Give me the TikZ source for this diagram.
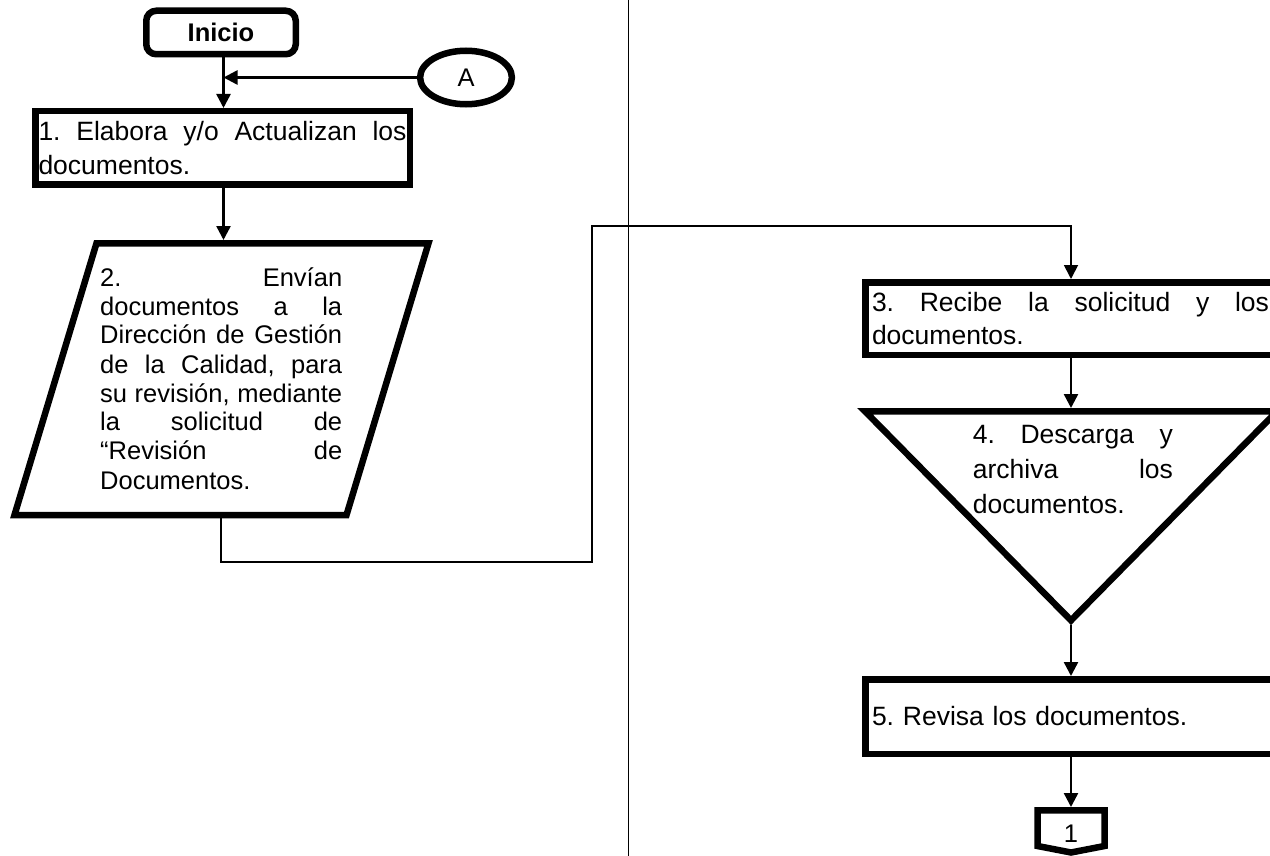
\documentclass[tikz,border=0pt]{standalone}
\usepackage{fontspec}
\setmainfont{Liberation Sans}
\usetikzlibrary{arrows.meta,shapes.geometric}
\tolerance=10000
\hyphenpenalty=10000
\frenchspacing
\begin{document}
\begin{tikzpicture}[x=1pt,y=-1pt,
  border/.style={draw=black,line width=6.5pt},
  conn/.style={line width=2.5pt,-{Triangle[width=14pt,length=14pt]}},
  elbow/.style={line width=1.8pt,-{Triangle[width=14pt,length=14pt]}},
  txt/.style={font=\fontsize{26.5}{34}\selectfont},
  small/.style={font=\fontsize{25.5}{30}\selectfont},
  ptxt/.style={font=\fontsize{25.5}{29}\selectfont},
  procbox/.style={border, rectangle, inner ysep=0pt, txt}
]
\useasboundingbox (0,0) rectangle (1270,856);
\clip (0,0) rectangle (1270,856);
\fill[white] (0,0) rectangle (1270,856);

% page divider
\draw[line width=1pt] (628,0) -- (628,856);

% column guides
\coordinate (colL) at (223.5,0);
\coordinate (colR) at (1071,0);

% Inicio
\node[border, rounded corners=10pt, minimum width=149.5pt, minimum height=43.5pt,
      inner sep=0pt, font=\bfseries\fontsize{25.5}{30}\selectfont] (ini) at (221,32.5) {Inicio};

% connector A
\node[border, ellipse, minimum width=91.8pt, minimum height=53.5pt, inner sep=0pt, small] (A) at (466,77.5) {A};

% 1.
\node[procbox, inner xsep=3.25pt, minimum width=374.5pt, minimum height=73.5pt,
      text width=368pt, align=justify] (b1) at (222.5,148)
  {1. Elabora y/o Actualizan los\linebreak documentos.};

\draw[conn] (ini.south -| colL) -- (b1.north -| colL);
\draw[conn] (A.west) -- (A.west -| colL);

% 2. parallelogram
\coordinate (pTL) at (96.5,243.25);
\coordinate (pTR) at (428.5,243.25);
\coordinate (pBR) at (346.5,515);
\coordinate (pBL) at (14.5,515);
\coordinate (pTop) at (223.5,240);
\coordinate (pBot) at (221,518.25);
\draw[border, line join=miter] (pTL) -- (pTR) -- (pBR) -- (pBL) -- cycle;
\node[ptxt, text width=242pt, align=justify, inner sep=0pt, anchor=base west] (p2) at (100,286)
  {2. Envían\linebreak documentos a la\linebreak Dirección de Gestión\linebreak de la Calidad, para\linebreak su revisión, mediante\linebreak la solicitud de\linebreak “Revisión de\linebreak Documentos.};

\draw[conn] (b1.south -| colL) -- (pTop);

% 3.
\node[procbox, inner xsep=6.75pt, minimum height=72.5pt,
      text width=397pt, align=justify, font=\fontsize{26.5}{33}\selectfont] (b3) at (1070.5,318.5)
  {3. Recibe la solicitud y los\linebreak documentos.};

% elbow connector 2 -> 3
\draw[elbow] (pBot) -- (221,562) -| (592,226) -| (b3.north -| colR);

% 4. triangle
\coordinate (tL) at (865,411.25);
\coordinate (tR) at (1277,411.25);
\coordinate (tA) at (1071,620.4);
\coordinate (tTop) at (1071,408);
\coordinate (tApex) at (1071,625);
\draw[border, line join=miter] (tL) -- (tR) -- (tA) -- cycle;
\node[font=\fontsize{26.5}{35}\selectfont, text width=200pt, align=justify, inner sep=0pt, anchor=base west] (t4) at (972.7,443)
  {4. Descarga y\linebreak archiva los\linebreak documentos.};

\draw[conn] (b3.south -| colR) -- (tTop);

% 5.
\node[procbox, inner xsep=6.75pt, minimum height=74.5pt,
      text width=397pt, align=left] (b5) at (1070.5,716.5)
  {5. Revisa los documentos.};

\draw[conn] (tApex) -- (b5.north -| colR);

% off-page connector 1
\coordinate (cTop) at (1071,807);
\draw[border, line join=miter] (1037.5,810.25) -- (1104.5,810.25) -- (1104.5,846) -- (1071,852.5) -- (1037.5,846) -- cycle;
\node[small, inner sep=0pt, anchor=base] (c1) at (1071,842) {1};

\draw[conn] (b5.south -| colR) -- (cTop);
\end{tikzpicture}
\end{document}
